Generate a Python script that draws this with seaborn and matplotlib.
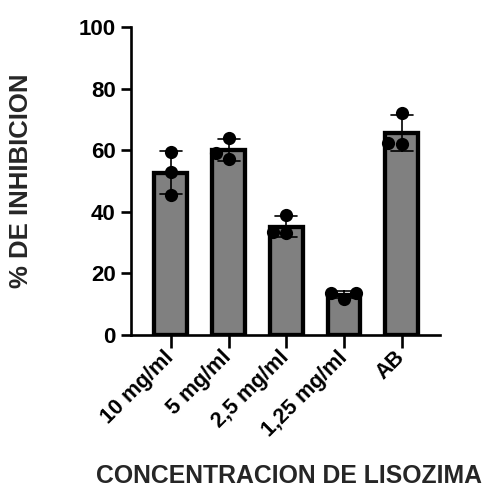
import numpy as np
import pandas as pd
import matplotlib
matplotlib.use("Agg")
import matplotlib.pyplot as plt
import seaborn as sns

# Lysozyme concentrations and replicate inhibition values (%)
categories = ["10 mg/ml", "5 mg/ml", "2,5 mg/ml", "1,25 mg/ml", "AB"]
rep1 = [59.5, 64.0, 39.0, 11.8, 72.2]
rep2 = [53.0, 57.1, 33.0, 13.8, 61.9]
rep3 = [45.5, 59.0, 33.5, 13.6, 62.4]
y_ticks = [0, 20, 40, 60, 80, 100]

df = pd.DataFrame({
    "conc": categories * 3,
    "inhib": rep1 + rep2 + rep3,
})

sns.set_theme(style="ticks")
plt.rcParams["font.family"] = ["Liberation Sans", "DejaVu Sans"]
plt.rcParams["font.weight"] = "bold"

fig = plt.figure(figsize=(4.85, 4.88), dpi=100)
ax = fig.add_axes([0.270, 0.3135, 0.637, 0.6312])

sns.barplot(data=df, x="conc", y="inhib", order=categories, ax=ax,
            color="#808080", saturation=1, width=0.57,
            edgecolor="black", linewidth=3.1,
            errorbar="sd", capsize=0.38,
            err_kws={"color": "black", "linewidth": 1.2})
sns.swarmplot(data=df, x="conc", y="inhib", order=categories, ax=ax,
              color="black", size=9.5, zorder=5)

ax.set_ylim(0, 100)
ax.set_xlim(-0.69, 4.66)
ax.set_yticks(y_ticks)
ax.set_yticklabels([str(t) for t in y_ticks], fontsize=16, fontweight="bold")
ax.set_xticks(range(len(categories)))
ax.set_xticklabels(categories, fontsize=15.5, fontweight="bold",
                   rotation=45, ha="right", va="center",
                   rotation_mode="anchor")

ax.set_ylabel("% DE INHIBICION", fontsize=18.5, fontweight="bold")
ax.yaxis.label.set_va("center")
ax.yaxis.set_label_coords(-0.356, 0.5)
ax.set_xlabel("CONCENTRACION DE LISOZIMA", fontsize=17.8, fontweight="bold")
ax.xaxis.label.set_va("center")
ax.xaxis.set_label_coords(0.513, -0.458)

for side in ("top", "right"):
    ax.spines[side].set_visible(False)
for side in ("left", "bottom"):
    ax.spines[side].set_linewidth(1.9)
    ax.spines[side].set_color("black")
ax.tick_params(axis="y", length=7, width=1.9, colors="black", pad=4)
ax.tick_params(axis="x", length=9, width=1.9, colors="black", pad=5)

fig.savefig("out.png", dpi=100)
